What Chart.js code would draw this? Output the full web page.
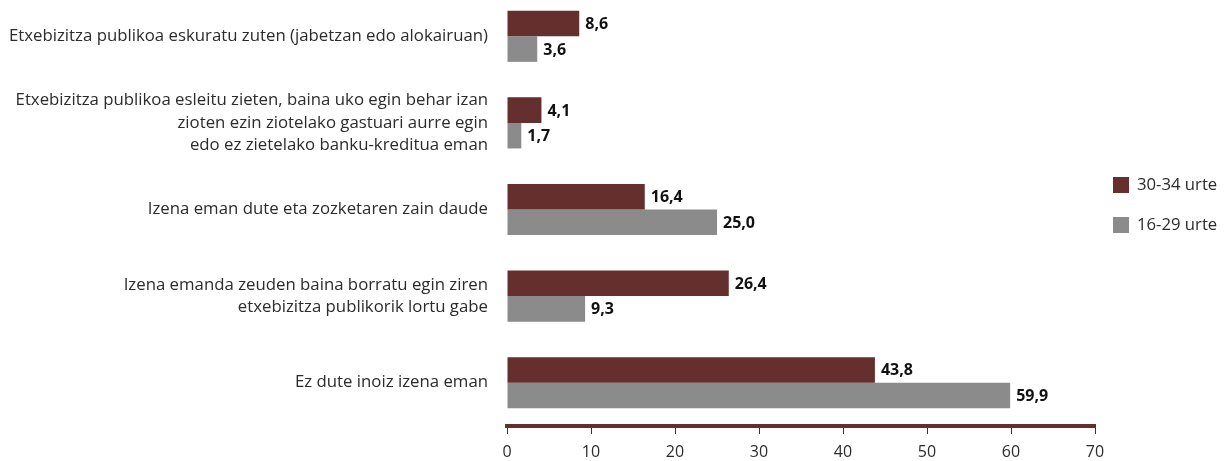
<!DOCTYPE html>
<html>
<head>
<meta charset="utf-8">
<script src="https://cdn.jsdelivr.net/npm/chart.js@4"></script>
<style>
  html, body { margin: 0; padding: 0; background: #fff; }
  #wrap { position: relative; width: 1230px; height: 461px; overflow: hidden; }
  #wrap canvas { position: absolute; left: 0; top: -7px; }
</style>
</head>
<body>
<div id="wrap"><canvas id="chart" width="1230" height="468"></canvas></div>
<script>
// categories (multi-line labels)
const categories = [
    ['Etxebizitza publikoa eskuratu zuten (jabetzan edo alokairuan)'],
    ['Etxebizitza publikoa esleitu zieten, baina uko egin behar izan', 'zioten ezin ziotelako gastuari aurre egin', 'edo ez zietelako banku-kreditua eman'],
    ['Izena eman dute eta zozketaren zain daude'],
    ['Izena emanda zeuden baina borratu egin ziren', 'etxebizitza publikorik lortu gabe'],
    ['Ez dute inoiz izena eman']
];
const seriesNames = ['30-34 urte', '16-29 urte'];
const values3034 = [8.6, 4.1, 16.4, 26.4, 43.8];
const values1629 = [3.6, 1.7, 25.0, 9.3, 59.9];
const xTicks = [0, 10, 20, 30, 40, 50, 60, 70];

const MAROON = '#652f2e';
const GRAY = '#8b8b8b';
const TEXT = '#2b2b2b';
const FONT = '"Open Sans", "Noto Sans", sans-serif';

function fmt(v) {
    return v.toFixed(1).replace('.', ',');
}

// value labels at the end of each bar
const valueLabels = {
    id: 'valueLabels',
    afterDatasetsDraw(chart) {
        const ctx = chart.ctx;
        ctx.save();
        ctx.font = 'bold 16px ' + FONT;
        ctx.fillStyle = '#111';
        ctx.textAlign = 'left';
        ctx.textBaseline = 'middle';
        chart.data.datasets.forEach((ds, i) => {
            chart.getDatasetMeta(i).data.forEach((bar, j) => {
                ctx.fillText(fmt(ds.data[j]), bar.x + 6, bar.y + 1);
            });
        });
        ctx.restore();
    }
};

// legend on the right, stacked vertically
const sideLegend = {
    id: 'sideLegend',
    afterDraw(chart) {
        const ctx = chart.ctx;
        ctx.save();
        ctx.font = '16.7px ' + FONT;
        ctx.textBaseline = 'middle';
        ctx.textAlign = 'left';
        chart.data.datasets.forEach((ds, i) => {
            const y = 192 + i * 40;
            ctx.fillStyle = ds.backgroundColor;
            ctx.fillRect(1113, y - 8, 16, 16);
            ctx.fillStyle = TEXT;
            ctx.fillText(ds.label, 1137, y);
        });
        ctx.restore();
    }
};

new Chart(document.getElementById('chart'), {
    type: 'bar',
    data: {
        labels: categories,
        datasets: [
            { label: seriesNames[0], data: values3034, backgroundColor: MAROON },
            { label: seriesNames[1], data: values1629, backgroundColor: GRAY }
        ]
    },
    options: {
        indexAxis: 'y',
        responsive: false,
        animation: false,
        layout: { padding: { left: 0, right: 135, top: 0, bottom: 0 } },
        datasets: {
            bar: { categoryPercentage: 0.59, barPercentage: 1.0 }
        },
        scales: {
            x: {
                min: 0,
                max: 70,
                afterBuildTicks(scale) {
                    scale.ticks = xTicks.map(v => ({ value: v }));
                },
                afterFit(scale) { scale.height = 35; },
                border: { display: true, color: MAROON, width: 4 },
                grid: { drawOnChartArea: false, drawTicks: true, tickLength: 8, color: '#333', lineWidth: 1 },
                ticks: { color: TEXT, font: { size: 16, family: FONT }, padding: 9 }
            },
            y: {
                afterFit(scale) {
                    scale.width = 507;
                    scale.paddingTop = 0;
                    scale.paddingBottom = 0;
                },
                border: { display: false },
                grid: { display: false },
                ticks: { color: TEXT, font: { size: 16.8, family: FONT, lineHeight: 1.34 }, padding: 11 }
            }
        },
        plugins: {
            legend: { display: false },
            tooltip: { enabled: false }
        }
    },
    plugins: [valueLabels, sideLegend]
});
</script>
</body>
</html>
